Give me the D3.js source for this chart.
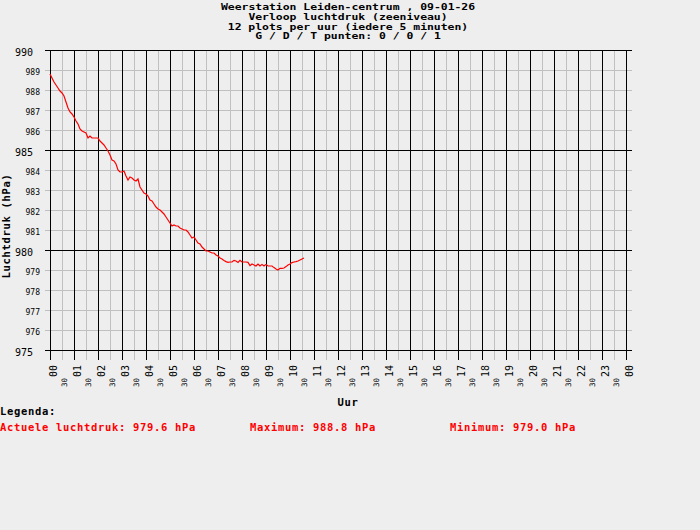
<!DOCTYPE html>
<html>
<head>
<meta charset="utf-8">
<script src="https://cdn.jsdelivr.net/npm/d3@7"></script>
<style>
  body { margin: 0; background: #eeeeee; }
  svg { display: block; }
  text { font-family: "DejaVu Sans Mono", monospace; }
</style>
</head>
<body>
<script>
// titel regels
var titel = [
  "Weerstation Leiden-centrum , 09-01-26",
  "Verloop luchtdruk (zeeniveau)",
  "12 plots per uur (iedere 5 minuten)",
  "G / D / T punten: 0 / 0 / 1"
];

// uur labels op de x-as
var uren = ["00","01","02","03","04","05","06","07","08","09","10","11",
            "12","13","14","15","16","17","18","19","20","21","22","23","00"];

// drukwaarden op de y-as
var drukTicks = [975,976,977,978,979,980,981,982,983,984,985,986,987,988,989,990];
var drukMajor = [975, 980, 985, 990];

// luchtdruk in hPa, elke 5 minuten vanaf 00:00
var luchtdruk = [
  988.8, 988.6, 988.4, 988.25, 988.1, 987.95, 987.85, 987.7, 987.4, 987.1,
  986.9, 986.8, 986.65, 986.45, 986.3, 986.05, 985.95, 985.9, 985.85, 985.6,
  985.7, 985.6, 985.6, 985.6, 985.6, 985.45, 985.35, 985.25, 985.1, 984.95,
  984.75, 984.5, 984.45, 984.3, 984.0, 983.9, 983.9, 983.95, 983.7, 983.5,
  983.65, 983.6, 983.5, 983.45, 983.55, 983.15, 983.0, 982.85, 982.8, 982.7,
  982.5, 982.45, 982.3, 982.15, 982.05, 982.0, 981.9, 981.8, 981.65, 981.5,
  981.35, 981.2, 981.25, 981.2, 981.2, 981.1, 981.05, 981.0, 981.0, 980.9,
  980.75, 980.6, 980.65, 980.5, 980.35, 980.3, 980.15, 980.05, 979.95, 979.95,
  979.9, 979.85, 979.85, 979.75, 979.7, 979.6, 979.55, 979.48, 979.42, 979.38,
  979.4, 979.4, 979.48, 979.45, 979.38, 979.48, 979.4, 979.4, 979.4, 979.38,
  979.22, 979.3, 979.25, 979.2, 979.3, 979.2, 979.28, 979.2, 979.28, 979.2,
  979.2, 979.2, 979.12, 979.05, 979.0, 979.08, 979.08, 979.1, 979.17, 979.25,
  979.3, 979.37, 979.4, 979.42, 979.45, 979.5, 979.55, 979.6
];

var width = 700, height = 530;
var plot = {left: 50, right: 626, top: 50, bottom: 350};

// minuten sinds middernacht -> pixel
var x = d3.scaleLinear().domain([0, 24 * 60]).range([plot.left, plot.right]);
var y = d3.scaleLinear().domain([975, 990]).range([plot.bottom, plot.top]);

var svg = d3.select("body").append("svg")
    .attr("width", width)
    .attr("height", height);

svg.append("rect")
    .attr("width", width).attr("height", height)
    .attr("fill", "#eeeeee");

// titel, smal font horizontaal opgerekt zodat de regels niet overlappen
svg.selectAll(".titel")
    .data(titel)
  .enter().append("text")
    .attr("class", "titel")
    .attr("transform", function(d, i) {
      return "translate(348," + (10 + i * 9.8) + ") scale(1.36,1)";
    })
    .attr("text-anchor", "middle")
    .style("font-size", "8.4px")
    .style("font-weight", "bold")
    .text(function(d) { return d; });

var grid = svg.append("g").attr("shape-rendering", "crispEdges");

// verticale lijnen: halve uren grijs, hele uren zwart
var halfUren = d3.range(0, 24).map(function(h) { return h * 60 + 30; });
grid.selectAll(".vhalf")
    .data(halfUren)
  .enter().append("line")
    .attr("x1", function(d) { return Math.round(x(d)) + 0.5; })
    .attr("x2", function(d) { return Math.round(x(d)) + 0.5; })
    .attr("y1", plot.top)
    .attr("y2", 360)
    .attr("stroke", "#c0c0c0");

// horizontale lijnen
grid.selectAll(".hline")
    .data(drukTicks)
  .enter().append("line")
    .attr("x1", plot.left - 5)
    .attr("x2", plot.right + 6)
    .attr("y1", function(d) { return y(d) + 0.5; })
    .attr("y2", function(d) { return y(d) + 0.5; })
    .attr("stroke", function(d) { return drukMajor.indexOf(d) >= 0 ? "#000" : "#c0c0c0"; });

grid.selectAll(".vuur")
    .data(uren)
  .enter().append("line")
    .attr("x1", function(d, i) { return Math.round(x(i * 60)) + 0.5; })
    .attr("x2", function(d, i) { return Math.round(x(i * 60)) + 0.5; })
    .attr("y1", plot.top)
    .attr("y2", 360)
    .attr("stroke", "#000");

// redraw major horizontals on top
grid.selectAll(".hmajor")
    .data(drukMajor)
  .enter().append("line")
    .attr("x1", plot.left - 5)
    .attr("x2", plot.right + 6)
    .attr("y1", function(d) { return y(d) + 0.5; })
    .attr("y2", function(d) { return y(d) + 0.5; })
    .attr("stroke", "#000");

// y labels
svg.selectAll(".ylab")
    .data(drukTicks)
  .enter().append("text")
    .attr("x", function(d) { return drukMajor.indexOf(d) >= 0 ? 33 : 40; })
    .attr("y", function(d) { return y(d) + (drukMajor.indexOf(d) >= 0 ? 5.5 : 4.5); })
    .attr("text-anchor", "end")
    .style("font-size", function(d) { return drukMajor.indexOf(d) >= 0 ? "10px" : "8px"; })
    .text(function(d) { return d; });

// x labels
svg.selectAll(".xlab")
    .data(uren)
  .enter().append("text")
    .attr("transform", function(d, i) {
      return "translate(" + (Math.round(x(i * 60)) + 6.5) + ",377) rotate(-90)";
    })
    .style("font-size", "10px")
    .text(function(d) { return d; });

svg.selectAll(".xhalf")
    .data(halfUren)
  .enter().append("text")
    .attr("transform", function(d) {
      return "translate(" + (Math.round(x(d)) + 4.5) + ",387) rotate(-90)";
    })
    .style("font-size", "7.5px")
    .text("30");

// as titels
svg.append("text")
    .attr("x", 348).attr("y", 406)
    .attr("text-anchor", "middle")
    .style("font-size", "10.5px").style("font-weight", "bold")
    .style("letter-spacing", "0.68px")
    .text("Uur");

svg.append("text")
    .attr("transform", "translate(10,226) rotate(-90)")
    .attr("text-anchor", "middle")
    .style("font-size", "10.5px").style("font-weight", "bold")
    .style("letter-spacing", "0.68px")
    .text("Luchtdruk (hPa)");

// de lijn
var line = d3.line()
    .x(function(d, i) { return x(i * 5); })
    .y(function(d) { return y(d); });

svg.append("path")
    .datum(luchtdruk)
    .attr("fill", "none")
    .attr("stroke", "#ff0000")
    .attr("stroke-width", 1.2)
    .attr("d", line);

// legenda
var fmt = d3.format(".1f");
svg.append("text")
    .attr("x", 0).attr("y", 415)
    .style("font-size", "10.5px").style("font-weight", "bold")
    .style("letter-spacing", "0.68px")
    .text("Legenda:");

var legenda = [
  {x: 0, t: "Actuele luchtdruk: " + fmt(luchtdruk[luchtdruk.length - 1]) + " hPa"},
  {x: 250, t: "Maximum: " + fmt(d3.max(luchtdruk)) + " hPa"},
  {x: 450, t: "Minimum: " + fmt(d3.min(luchtdruk)) + " hPa"}
];
svg.selectAll(".leg")
    .data(legenda)
  .enter().append("text")
    .attr("x", function(d) { return d.x; })
    .attr("y", 431)
    .attr("fill", "#ff0000")
    .style("font-size", "10.5px").style("font-weight", "bold")
    .style("letter-spacing", "0.68px")
    .text(function(d) { return d.t; });
</script>
</body>
</html>
